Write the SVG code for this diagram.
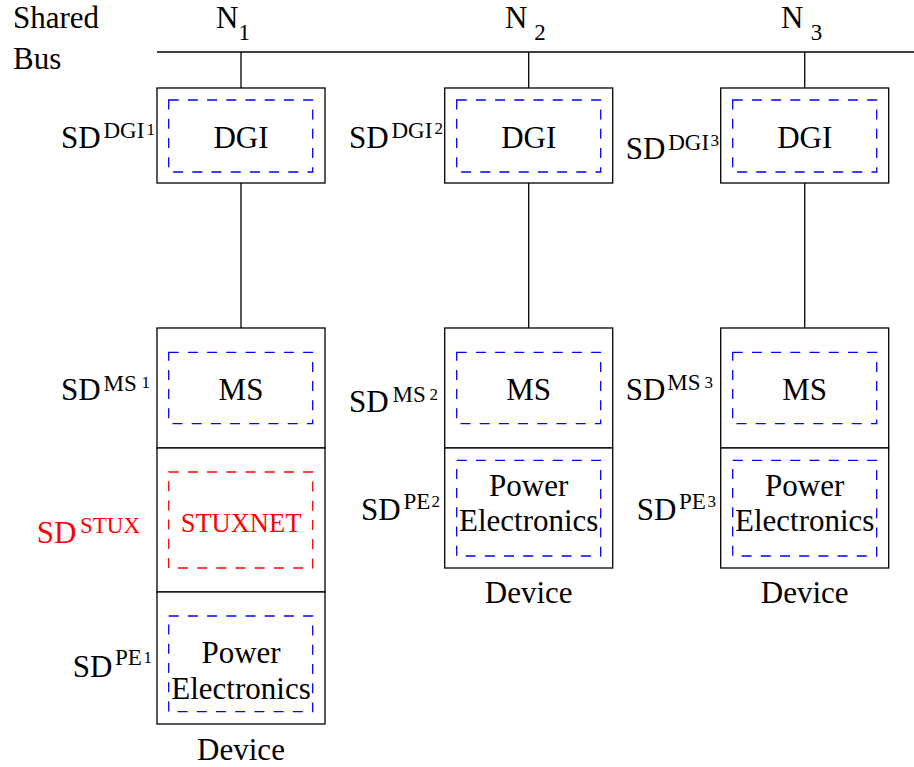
<svg xmlns="http://www.w3.org/2000/svg" width="914" height="767" viewBox="0 0 914 767" font-family="'Liberation Serif', 'Times New Roman', serif">
<style>
text{font-family:'Liberation Serif','Times New Roman',serif;font-size:31px;fill:#000}
.sup{font-size:23px}
.ss{font-size:17px}
.sub{font-size:23px}
.red{fill:#ff0000}
.mid{text-anchor:middle}
.stux{font-size:26.5px}
.box{fill:#fff;stroke:#000;stroke-width:1.3}
.dash{fill:none;stroke:#0000ff;stroke-width:1.3;stroke-dasharray:10 9.2}
.dashr{fill:none;stroke:#ff0000;stroke-width:1.3;stroke-dasharray:10 9.2}
.ln{stroke:#000;stroke-width:1.3;fill:none}
</style>
<g id="connectors">
<line class="ln" x1="157" y1="52" x2="914" y2="52"/>
<line class="ln" x1="241" y1="52" x2="241" y2="88"/>
<line class="ln" x1="241" y1="183" x2="241" y2="328"/>
<line class="ln" x1="528.7" y1="52" x2="528.7" y2="88"/>
<line class="ln" x1="528.7" y1="183" x2="528.7" y2="328"/>
<line class="ln" x1="804.7" y1="52" x2="804.7" y2="88"/>
<line class="ln" x1="804.7" y1="183" x2="804.7" y2="328"/>
</g>
<g id="bus-label">
<text x="13" y="28">Shared</text>
<text x="13" y="69">Bus</text>
</g>
<g id="n1-label"><text x="216" y="28">N</text><text class="sub" x="238.5" y="39.5">1</text></g>
<g id="n2-label"><text x="505" y="28">N</text><text class="sub" x="534.3" y="40">2</text></g>
<g id="n3-label"><text x="781" y="28">N</text><text class="sub" x="810.7" y="40">3</text></g>

<g id="dgi1">
<rect class="box" x="157" y="88" width="168" height="95"/>
<rect class="dash" x="168.7" y="100" width="144" height="72"/>
<text class="mid" x="241" y="148.3">DGI</text>
<text x="61" y="148.3">SD</text><text class="sup" x="103.5" y="137.5">DGI</text><text class="ss" x="146.5" y="135">1</text>
</g>
<g id="dgi2">
<rect class="box" x="444.7" y="88" width="168" height="95"/>
<rect class="dash" x="456.7" y="100" width="144" height="72"/>
<text class="mid" x="528.7" y="148.3">DGI</text>
<text x="349" y="147.7">SD</text><text class="sup" x="391.5" y="137.5">DGI</text><text class="ss" x="434.5" y="134">2</text>
</g>
<g id="dgi3">
<rect class="box" x="720.7" y="88" width="168" height="95"/>
<rect class="dash" x="732.7" y="100" width="144" height="72"/>
<text class="mid" x="804.7" y="148.3">DGI</text>
<text x="625.7" y="159.3">SD</text><text class="sup" x="668.2" y="149.5">DGI</text><text class="ss" x="710.5" y="146">3</text>
</g>

<g id="ms1">
<rect class="box" x="157" y="328" width="168" height="120"/>
<rect class="dash" x="168.7" y="352.3" width="144" height="71.4"/>
<text class="mid" x="241" y="400">MS</text>
<text x="61" y="400">SD</text><text class="sup" x="103.5" y="390.5">MS</text><text class="ss" x="141.5" y="388">1</text>
</g>
<g id="stux1">
<rect class="box" x="157" y="448" width="168" height="144"/>
<rect class="dashr" x="168.7" y="472" width="144" height="96"/>
<text class="mid red stux" x="241" y="532">STUXNET</text>
<text class="red" x="36.7" y="543.3">SD</text><text class="sup red" x="80" y="532.7">STUX</text>
</g>
<g id="pe1">
<rect class="box" x="157" y="592" width="168" height="132"/>
<rect class="dash" x="168.7" y="616" width="144" height="95.7"/>
<text class="mid" x="241" y="663.3">Power</text>
<text class="mid" x="241" y="699">Electronics</text>
<text x="72.7" y="676.7">SD</text><text class="sup" x="115" y="665">PE</text><text class="ss" x="143.5" y="662.5">1</text>
</g>
<g id="device1-label"><text class="mid" x="241" y="760">Device</text></g>

<g id="ms2">
<rect class="box" x="444.7" y="328" width="168" height="120"/>
<rect class="dash" x="456.7" y="352.3" width="144" height="71.4"/>
<text class="mid" x="528.7" y="400">MS</text>
<text x="349" y="411.7">SD</text><text class="sup" x="392.5" y="402.3">MS</text><text class="ss" x="429.5" y="400">2</text>
</g>
<g id="pe2">
<rect class="box" x="444.7" y="448" width="168" height="120"/>
<rect class="dash" x="456.7" y="460.3" width="144" height="95.7"/>
<text class="mid" x="528.7" y="495.7">Power</text>
<text class="mid" x="528.7" y="531">Electronics</text>
<text x="361" y="520">SD</text><text class="sup" x="403.5" y="509">PE</text><text class="ss" x="431.5" y="506.5">2</text>
</g>
<g id="device2-label"><text class="mid" x="528.7" y="603.3">Device</text></g>

<g id="ms3">
<rect class="box" x="720.7" y="328" width="168" height="120"/>
<rect class="dash" x="732.7" y="352.3" width="144" height="71.4"/>
<text class="mid" x="804.7" y="400">MS</text>
<text x="625.7" y="400">SD</text><text class="sup" x="667.3" y="390">MS</text><text class="ss" x="704.5" y="388">3</text>
</g>
<g id="pe3">
<rect class="box" x="720.7" y="448" width="168" height="120"/>
<rect class="dash" x="732.7" y="460.3" width="144" height="95.7"/>
<text class="mid" x="804.7" y="495.7">Power</text>
<text class="mid" x="804.7" y="531">Electronics</text>
<text x="636.7" y="520">SD</text><text class="sup" x="679" y="509">PE</text><text class="ss" x="707.5" y="506.5">3</text>
</g>
<g id="device3-label"><text class="mid" x="804.7" y="603.3">Device</text></g>
</svg>
